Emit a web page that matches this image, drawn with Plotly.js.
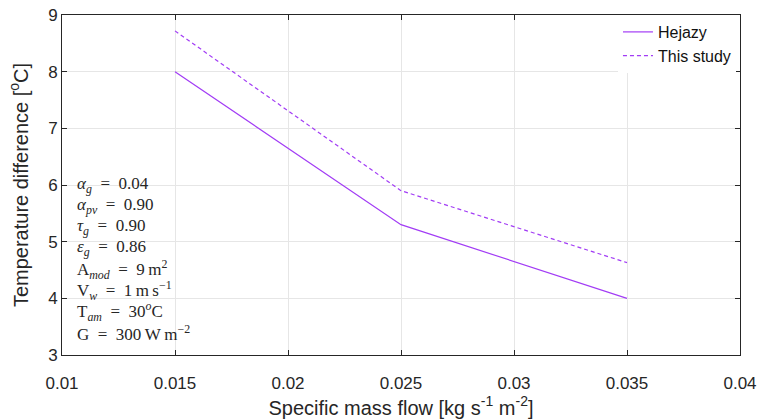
<!DOCTYPE html>
<html>
<head>
<meta charset="utf-8">
<script src="https://cdn.plot.ly/plotly-3.0.1.min.js"></script>
<style>html,body{margin:0;padding:0;background:#fff;}#chart{width:758px;height:420px;}</style>
</head>
<body>
<div id="chart"></div>
<script>
var massFlow = [0.015, 0.025, 0.035];
var hejazy = [8.0, 5.3, 4.0];
var thisStudy = [8.72, 5.9, 4.63];
var seriesNames = ['Hejazy', 'This study'];
var xTicks = [0.01, 0.015, 0.02, 0.025, 0.03, 0.035, 0.04];
var xTickLabels = ['0.01', '0.015', '0.02', '0.025', '0.03', '0.035', '0.04'];
var yTicks = [3, 4, 5, 6, 7, 8, 9];
var paramLabels = [
  '<i>α</i><sub><i>g</i></sub>\u2002=\u20020.04',
  '<i>α</i><sub><i>pv</i></sub>\u2002=\u20020.90',
  '<i>τ</i><sub><i>g</i></sub>\u2002=\u20020.90',
  '<i>ε</i><sub><i>g</i></sub>\u2002=\u20020.86',
  'A<sub><i>mod</i></sub>\u2002=\u20029\u2009m<sup>2</sup>',
  'V<sub><i>w</i></sub>\u2002=\u20021\u2009m\u2009s<sup>−1</sup>',
  'T<sub><i>am</i></sub>\u2002=\u200230<sup><i>o</i></sup>C',
  'G\u2002=\u2002300\u2009W\u2009m<sup>−2</sup>'
];

var col = '#a23cf5';
var traces = [
  {x: massFlow, y: hejazy, name: seriesNames[0], type: 'scatter', mode: 'lines',
   line: {color: col, width: 1.2}},
  {x: massFlow, y: thisStudy, name: seriesNames[1], type: 'scatter', mode: 'lines',
   line: {color: col, width: 1.2, dash: '4px,3px'}}
];

var plotH = 340;
var annotations = paramLabels.map(function (t, i) {
  var ypx = 185 + 21.1 * i;         // pixel centre of each line
  return {
    text: t, xref: 'paper', yref: 'paper', x: 13 / 678, y: (355 - ypx) / plotH,
    xanchor: 'left', yanchor: 'middle', showarrow: false,
    font: {family: 'Liberation Serif, serif', size: 17, color: '#262626'}
  };
});

var axisCommon = {
  showline: true, linecolor: '#262626', linewidth: 1, mirror: 'ticks',
  ticks: 'inside', ticklen: 5, tickcolor: '#262626', tickwidth: 1,
  showgrid: true, gridcolor: '#e6e6e6', gridwidth: 1, zeroline: false,
  tickfont: {family: 'Liberation Sans, Arial, sans-serif', size: 17, color: '#262626'}
};

var layout = {
  width: 758, height: 420,
  margin: {l: 62, r: 18, t: 15, b: 65},
  paper_bgcolor: '#fff', plot_bgcolor: '#fff',
  showlegend: true,
  legend: {x: 0.82, y: 1, xanchor: 'left', yanchor: 'top', bgcolor: '#fff',
    borderwidth: 0, font: {family: 'Liberation Sans, Arial, sans-serif', size: 16, color: '#111'},
    tracegroupgap: 0},
  xaxis: Object.assign({}, axisCommon, {
    range: [0.01, 0.04], tickvals: xTicks, ticktext: xTickLabels, ticklabelstandoff: 13,
    title: {text: 'Specific mass flow [kg s<sup>-1</sup> m<sup>-2</sup>]', standoff: 0,
      font: {family: 'Liberation Sans, Arial, sans-serif', size: 20, color: '#262626'}}
  }),
  yaxis: Object.assign({}, axisCommon, {
    range: [3, 9], tickvals: yTicks,
    title: {text: 'Temperature difference [<sup>o</sup>C]', standoff: 14,
      font: {family: 'Liberation Sans, Arial, sans-serif', size: 20, color: '#262626'}}
  }),
  annotations: annotations
};

Plotly.newPlot('chart', traces, layout, {displayModeBar: false, staticPlot: true});
</script>
</body>
</html>
